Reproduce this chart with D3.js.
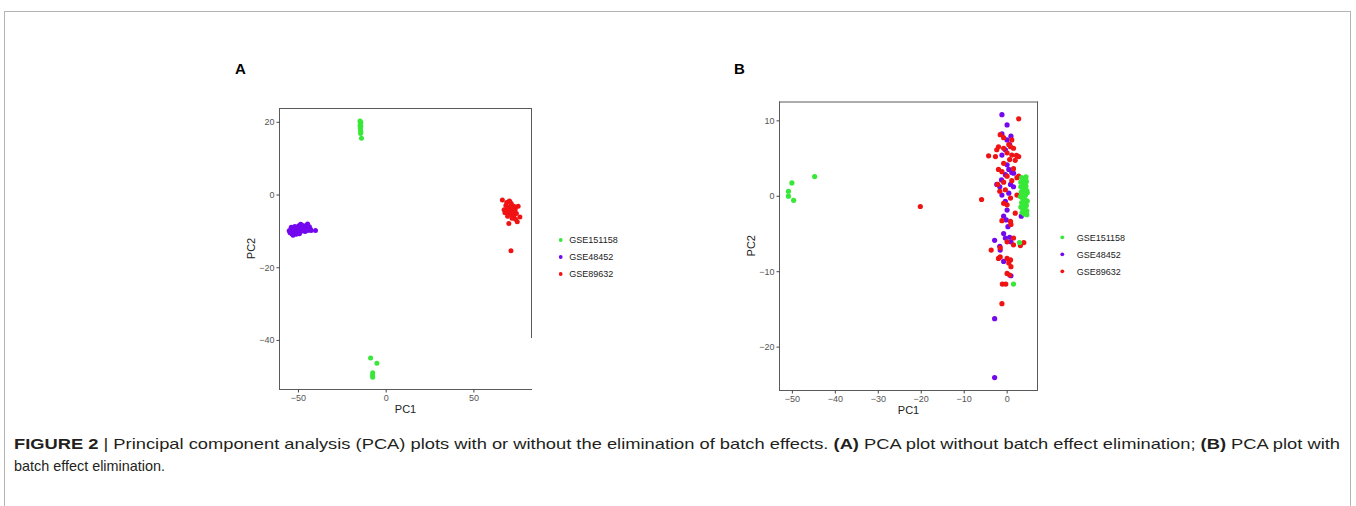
<!DOCTYPE html>
<html><head><meta charset="utf-8">
<script src="https://cdn.jsdelivr.net/npm/d3@7"></script>
<style>body{margin:0;background:#fff}svg{display:block}</style>
</head><body>
<svg id="c" width="1356" height="506"></svg>
<script>
// ---------- DATA ----------
const groups = ["GSE151158", "GSE48452", "GSE89632"];
const groupColors = ["#38e838", "#7308ef", "#f01313"];

// Panel A (without batch effect elimination)
const aTicksX = [-50, 0, 50];
const aTicksY = [20, 0, -20, -40];
const aGreen = [[-14.6,20.2],[-14.5,20],[-14.2,19.8],[-14.3,19.5],[-14.6,19],[-14.2,18.8],[-14.5,18.3],[-14.4,17.8],[-14.1,17.2],[-14.3,16.8],[-13.8,15.5],
  [-8.6,-45.0],[-5.0,-46.4],[-7.4,-49.0],[-7.5,-49.7],[-7.4,-50.3]];
const aPurple = [[-55,-10],[-54.5,-10.5],[-54,-9.5],[-53.5,-10.8],[-53,-10],[-52.5,-9.2],[-52,-10.3],[-51.5,-9.7],[-51,-10.9],[-50.5,-9],[-50,-10.1],[-49.5,-8.6],[-49,-9.6],[-48.8,-10.4],[-48.5,-8.2],[-48,-9.1],[-47.5,-10],[-47,-8.8],[-46.5,-9.5],[-46,-10.2],[-45.5,-8.5],[-45,-9.3],[-44.5,-8.1],[-44,-9.8],[-43.5,-8.9],[-43,-9.4],[-42.5,-9.9],[-40,-9.9],[-52.8,-11.2],[-51.8,-8.8],[-50.2,-9.5],[-49.2,-10.8],[-47.8,-8.4],[-46.2,-8.9],[-45.2,-10],[-44.2,-9.1],[-53.8,-9.0],[-51.2,-10.4],[-48.2,-9.9],[-46.8,-9.7]];
const aRed = [[66.5,-1.5],[69,-2.2],[70.5,-1.8],[71.5,-2.5],[72,-3],[70,-3.5],[68.5,-3],[73,-3.2],[74,-3.5],[75.5,-3.2],[69.5,-4.2],[71,-4.5],[72.5,-4],[73.5,-4.8],[70,-5.2],[68,-5],[71.5,-5.5],[74.5,-5.2],[76.5,-6.2],[73,-6],[72,-6.5],[75,-7.5],[70.2,-8],[69.5,-6],[71,-3.8],[72.8,-5],[74,-6.8],[67.5,-4.2],[71.4,-15.5],[70.8,-2.0],[73.8,-4.2]];

// Panel B (with batch effect elimination)
const bTicksX = [-50, -40, -30, -20, -10, 0];
const bTicksY = [10, 0, -10, -20];
const bGreen = [[-50.0,1.7],[-50.8,0.6],[-50.8,-0.05],[-49.6,-0.6],[-44.7,2.55],
  [3.5,2.4],[4.2,2.2],[4.6,1.9],[3.3,1.8],[3.9,1.6],[4.5,1.3],[3.6,1.1],[4.1,0.9],[4.7,0.7],[3.4,0.5],[3.9,0.3],[4.4,0.1],[3.2,-0.1],[3.7,-0.3],[4.3,-0.5],[4.8,-0.7],[3.5,-0.9],[4.0,-1.1],[4.6,-1.3],[3.3,-1.5],[3.8,-1.7],[4.3,-1.9],[3.6,-2.2],[4.1,-2.4],[4.7,-2.5],[4.5,2.5],[3.7,2.0],[4.2,1.4],[4.8,0.4],[3.6,-1.3],[4.4,-1.0],[4.0,0.6],[3.3,1.2],[4.7,-2.0],[3.0,-6.2],[1.6,-11.7]];
const bPurple = [[-1.1,10.75],[0.1,9.4],[-1.1,8.2],[1.0,7.9],[0.1,7.4],[0.7,6.8],[-0.3,6.1],[-1.1,5.4],[0.1,4.1],[0.5,3.5],[1.2,3.1],[-0.3,2.8],[-1.2,2.1],[-2.3,1.5],[-1.6,1.2],[0.9,1.5],[1.6,1.2],[0.5,0.35],[-0.3,-0.75],[0.1,-1.9],[-0.7,-2.7],[-0.1,-3.2],[0.3,-4.1],[3.4,-2.7],[-0.7,-5.0],[-0.3,-5.6],[0.7,-5.5],[-1.5,-7.2],[-1.6,-6.7],[1.0,-6.1],[-2.8,-5.9],[-0.7,-8.7],[1.0,-10.6],[-2.8,-16.3],[-2.8,-24.1],[1.6,3.0],[-1.1,0.1]];
const bRed = [[2.8,10.2],[-1.5,8.1],[-0.7,7.7],[1.2,7.4],[-1.9,6.5],[-0.7,6.3],[0.9,6.5],[1.6,6.3],[-2.6,5.2],[-4.2,5.3],[-2.3,6.1],[0.1,5.7],[1.2,5.4],[2.3,5.35],[2.8,5.2],[0.7,4.8],[2.0,4.7],[-0.7,4.3],[1.6,3.6],[-1.1,3.2],[0.1,2.6],[2.4,2.4],[-0.7,1.8],[1.2,2.0],[-2.1,1.5],[-0.3,0.8],[-1.6,0.6],[2.4,0.1],[0.9,-0.3],[0.1,-1.2],[-0.7,-1.0],[2.0,-2.3],[0.9,-3.4],[-1.1,-3.3],[1.6,-5.6],[0.1,-6.1],[3.2,-6.6],[4.0,-6.2],[1.6,-6.5],[-3.6,-7.2],[-1.9,-8.3],[-1.5,-8.1],[0.1,-8.3],[0.9,-8.5],[0.5,-8.9],[1.0,-9.4],[0.1,-10.3],[0.7,-10.5],[-1.0,-11.7],[-0.2,-11.7],[-1.1,-14.3],[-1.5,-6.9],[2.8,2.6],[-1.9,3.5],[0.5,6.8],[1.0,-3.8],
  [-20.1,-1.42],[-5.84,-0.49]];

// ---------- DRAW ----------
const svg = d3.select("#c");
const FONT = "'Liberation Sans', Arial, Helvetica, sans-serif";

// outer frame
svg.append("rect").attr("x",4.5).attr("y",11.5).attr("width",1346).attr("height",520)
  .attr("fill","none").attr("stroke","#b4b4b4").attr("stroke-width",1);

function panel(cfg){
  const g = svg.append("g");
  const x = d3.scaleLinear().domain(cfg.xd).range(cfg.xr);
  const y = d3.scaleLinear().domain(cfg.yd).range(cfg.yr);
  const [x0,x1] = cfg.xr, [y1,y0] = cfg.yr;
  const lc = "#5a5a5a";
  g.append("line").attr("x1",x0).attr("x2",x1).attr("y1",y0+.5).attr("y2",y0+.5).attr("stroke",lc);
  g.append("line").attr("x1",x0).attr("x2",x1).attr("y1",y1+.5).attr("y2",y1+.5).attr("stroke",lc);
  g.append("line").attr("x1",x0+.5).attr("x2",x0+.5).attr("y1",y0).attr("y2",y1).attr("stroke",lc);
  g.append("line").attr("x1",x1-.5).attr("x2",x1-.5).attr("y1",y0).attr("y2",cfg.rightEnd||y1).attr("stroke",lc);
  const ax = g.append("g").attr("transform",`translate(0,${y1+.5})`)
    .call(d3.axisBottom(x).tickValues(cfg.tx).tickSize(3).tickPadding(2).tickFormat(d=>d<0?"\u2212"+(-d):d));
  const ay = g.append("g").attr("transform",`translate(${x0+.5},0)`)
    .call(d3.axisLeft(y).tickValues(cfg.ty).tickSize(3).tickPadding(2).tickFormat(d=>d<0?"\u2212"+(-d):d));
  [ax,ay].forEach(a=>{
    a.select(".domain").remove();
    a.selectAll("line").attr("stroke","#444");
    a.selectAll("text").attr("fill","#555").attr("font-size",9).attr("font-family",FONT);
  });
  g.append("text").attr("x",(x0+x1)/2).attr("y",y1+24).attr("text-anchor","middle")
    .attr("font-family",FONT).attr("font-size",11).attr("fill","#222").text("PC1");
  g.append("text").attr("transform",`translate(${cfg.pc2x},${(y0+y1)/2}) rotate(-90)`).attr("text-anchor","middle")
    .attr("font-family",FONT).attr("font-size",11).attr("fill","#222").text("PC2");
  cfg.series.forEach((s,i)=>{
    g.append("g").selectAll("circle").data(s.data).join("circle")
      .attr("cx",d=>x(d[0])).attr("cy",d=>y(d[1])).attr("r",cfg.r).attr("fill",groupColors[s.gi]);
  });
  groups.forEach((nm,i)=>{
    const yy = cfg.legY + i*cfg.legStep;
    g.append("circle").attr("cx",cfg.legX).attr("cy",yy).attr("r",1.9).attr("fill",groupColors[i]);
    g.append("text").attr("x",cfg.legTX).attr("y",yy+3.2).attr("font-family",FONT).attr("font-size",9)
      .attr("fill","#222").text(nm);
  });
  g.append("text").attr("x",cfg.labX).attr("y",74).attr("font-family",FONT).attr("font-weight","bold")
    .attr("font-size",15).attr("fill","#000").text(cfg.label);
}

panel({label:"A", labX:235, xd:[-60.8,83.4], xr:[279,532], yd:[-53.5,23.8], yr:[389,108],
  tx:aTicksX, ty:aTicksY, r:2.5, pc2x:255, rightEnd:338,
  series:[{data:aPurple,gi:1},{data:aRed,gi:2},{data:aGreen,gi:0}],
  legX:560.7, legTX:569.3, legY:240, legStep:17});
panel({label:"B", labX:734, xd:[-53.0,7.3], xr:[779,1038], yd:[-25.75,12.5], yr:[390,101.5],
  tx:bTicksX, ty:bTicksY, r:2.6, pc2x:755,
  series:[{data:bPurple,gi:1},{data:bRed,gi:2},{data:bGreen,gi:0}],
  legX:1062.3, legTX:1076.7, legY:237.3, legStep:17});

const cap = svg.append("text").attr("x",14).attr("y",449).attr("font-family","'Liberation Sans Narrow', "+FONT)
  .attr("font-size",15).attr("fill","#231f20").attr("textLength",1326).attr("lengthAdjust","spacingAndGlyphs");
cap.append("tspan").attr("font-weight","bold").text("FIGURE 2");
cap.append("tspan").text(" | Principal component analysis (PCA) plots with or without the elimination of batch effects. ");
cap.append("tspan").attr("font-weight","bold").text("(A)");
cap.append("tspan").text(" PCA plot without batch effect elimination; ");
cap.append("tspan").attr("font-weight","bold").text("(B)");
cap.append("tspan").text(" PCA plot with");
svg.append("text").attr("x",14).attr("y",471).attr("font-family","'Liberation Sans Narrow', "+FONT)
  .attr("font-size",15).attr("fill","#231f20").attr("textLength",151).attr("lengthAdjust","spacingAndGlyphs")
  .text("batch effect elimination.");
</script>
</body></html>
